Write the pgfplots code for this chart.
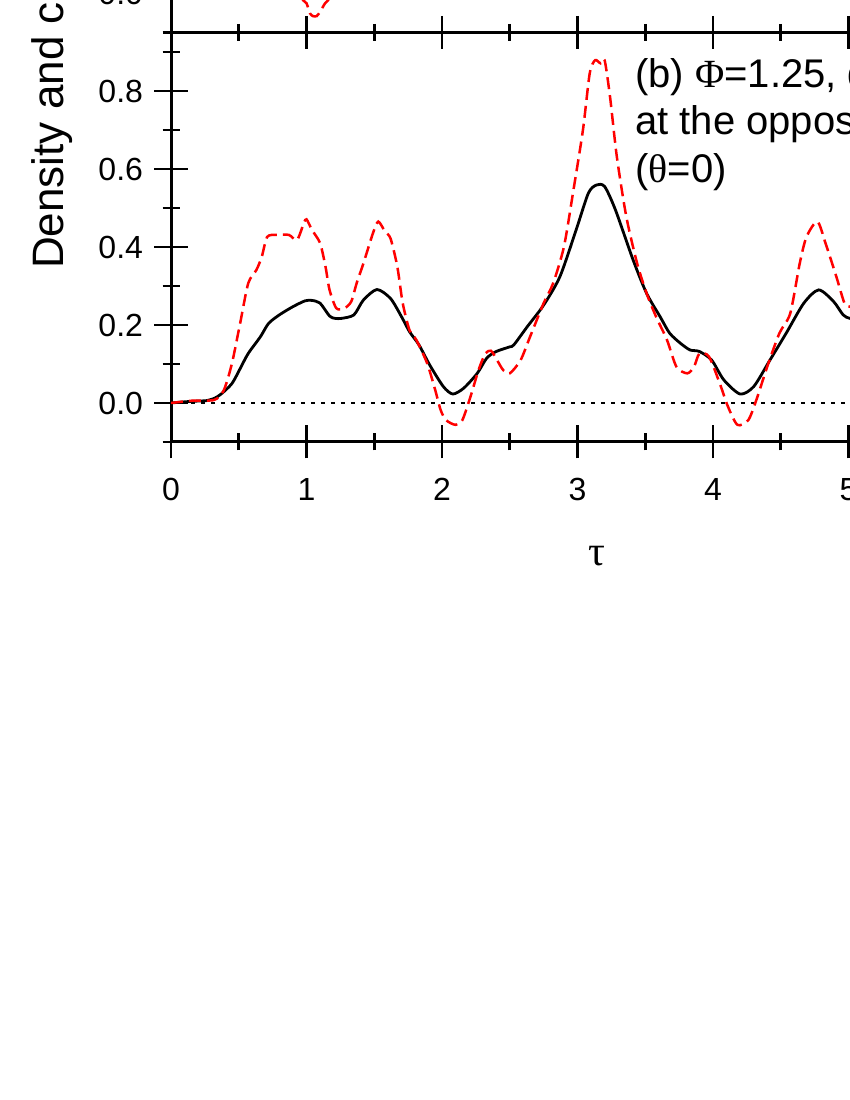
\documentclass[border=0pt]{standalone}
\usepackage{fontspec}
\setmainfont{Liberation Sans}
\newfontfamily\symfont{Liberation Serif}
\usepackage{pgfplots}
\pgfplotsset{compat=1.18}

\newcommand{\fs}[1]{\fontsize{#1}{#1}\selectfont}

\pgfplotsset{
  panel/.style={
    scale only axis,
    width=851.4pt,
    xmin=0, xmax=6.2832,
    axis line style={line width=3pt},
    every tick/.append style={black, line width=2.8pt},
    tick align=center,
    major tick length=33pt,
    minor tick length=17pt,
    xtick={0,1,2,3,4,5,6},
    minor xtick={0.5,1.5,2.5,3.5,4.5,5.5},
    ytick={0,0.2,0.4,0.6,0.8},
    minor ytick={-0.1,0.1,0.3,0.5,0.7,0.9},
    /pgf/number format/assume math mode=true,
    tick label style={font=\fs{32}},
    yticklabel style={/pgf/number format/fixed,
      /pgf/number format/fixed zerofill, /pgf/number format/precision=1},
    yticklabel shift=8pt,
    xticklabel shift=16pt,
  },
  dens/.style={black, line width=2.8pt, smooth, tension=0.45},
  curr/.style={red, line width=2.5pt, dash pattern=on 12pt off 6pt,
    smooth, tension=0.45},
}

\begin{document}
\begin{tikzpicture}[x=1pt,y=1pt]
\path[use as bounding box, clip] (0,0) rectangle (850,1100);

% panel (a), only its lowest strip is inside the page
\begin{axis}[panel, at={(171pt,1067.5pt)}, anchor=south west,
  height=234pt, ymin=-0.1, ymax=0.5, xticklabels={}]
\addplot[curr] coordinates {
 (0.90,0.030) (0.94,0.010) (0.974,-0.017) (1.00,-0.025) (1.026,-0.051)
 (1.048,-0.058) (1.075,-0.058) (1.10,-0.047) (1.137,-0.025) (1.16,-0.017)
 (1.20,0.020) (1.24,0.050)
};
\end{axis}

% panel (b)
\begin{axis}[panel, at={(171pt,658pt)}, anchor=south west,
  height=409.5pt, ymin=-0.1, ymax=0.95,
  xlabel={\symfont τ},
  xlabel style={at={(axis description cs:0.5,0)}, anchor=center,
    yshift=-114pt, font=\fs{42}}]
\addplot[black, line width=2.6pt, dash pattern=on 4pt off 6pt]
  coordinates {(0,0) (6.2832,0)};
\addplot[dens] coordinates {
 (0,0.000) (0.10,0.003) (0.20,0.005) (0.26,0.006) (0.32,0.012) (0.37,0.023)
 (0.45,0.050) (0.51,0.088) (0.57,0.127) (0.66,0.170) (0.72,0.204) (0.80,0.226)
 (0.90,0.247) (0.99,0.262) (1.04,0.263) (1.10,0.256) (1.17,0.223) (1.21,0.217)
 (1.26,0.217) (1.35,0.226) (1.42,0.264) (1.52,0.291) (1.62,0.268) (1.70,0.222)
 (1.76,0.183) (1.83,0.149) (1.91,0.097) (2.01,0.042) (2.08,0.023) (2.16,0.038)
 (2.26,0.076) (2.33,0.115) (2.40,0.132) (2.50,0.144) (2.53,0.149) (2.63,0.196)
 (2.75,0.251) (2.87,0.324) (2.99,0.444) (3.08,0.538) (3.14,0.559) (3.20,0.555)
 (3.28,0.495) (3.41,0.367) (3.51,0.281) (3.61,0.221) (3.68,0.179) (3.76,0.153)
 (3.83,0.136) (3.90,0.132) (3.99,0.110) (4.08,0.059) (4.20,0.023) (4.30,0.042)
 (4.42,0.110) (4.54,0.179) (4.67,0.256) (4.78,0.290) (4.89,0.260) (4.96,0.226)
 (5.01,0.217) (5.08,0.218) (5.15,0.225)
};
\addplot[curr] coordinates {
 (0,0.000) (0.16,0.006) (0.32,0.008) (0.39,0.033) (0.45,0.102) (0.51,0.204)
 (0.57,0.307) (0.63,0.341) (0.67,0.375) (0.71,0.426) (0.78,0.431) (0.87,0.431)
 (0.93,0.418) (0.98,0.461) (1.00,0.471) (1.04,0.444) (1.10,0.410) (1.14,0.350)
 (1.17,0.290) (1.22,0.243) (1.28,0.243) (1.33,0.260) (1.37,0.307) (1.42,0.358)
 (1.49,0.435) (1.53,0.465) (1.58,0.439) (1.62,0.422) (1.67,0.350) (1.71,0.256)
 (1.76,0.187) (1.81,0.162) (1.89,0.102) (1.95,0.033) (1.99,-0.018) (2.03,-0.044)
 (2.10,-0.056) (2.15,-0.044) (2.21,0.016) (2.27,0.085) (2.32,0.127) (2.36,0.134)
 (2.39,0.120) (2.45,0.085) (2.50,0.076) (2.58,0.110) (2.65,0.170) (2.75,0.256)
 (2.82,0.307) (2.90,0.401) (2.97,0.546) (3.04,0.700) (3.09,0.845) (3.13,0.879)
 (3.17,0.871) (3.20,0.879) (3.24,0.785) (3.29,0.632) (3.36,0.478) (3.44,0.358)
 (3.51,0.281) (3.58,0.221) (3.66,0.162) (3.73,0.093) (3.81,0.076) (3.86,0.093)
 (3.90,0.127) (3.97,0.119) (4.05,0.050) (4.11,-0.009) (4.18,-0.056) (4.26,-0.044)
 (4.32,0.008) (4.40,0.093) (4.49,0.179) (4.57,0.230) (4.64,0.358) (4.69,0.426)
 (4.77,0.465) (4.83,0.410) (4.91,0.324) (4.97,0.256) (5.01,0.247) (5.06,0.243)
 (5.12,0.250)
};
\end{axis}

\node[rotate=90, anchor=base west, inner sep=0pt, font=\fs{44}]
  at (63,831) {Density and current};
\node[anchor=base west, inner sep=0pt, font=\fs{40}] at (635,1012)
  {(b) {\symfont Φ}=1.25, detected};
\node[anchor=base west, inner sep=0pt, font=\fs{40}] at (635,965)
  {at the opposite side};
\node[anchor=base west, inner sep=0pt, font=\fs{40}] at (635,917)
  {({\symfont θ}=0)};
\end{tikzpicture}
\end{document}
